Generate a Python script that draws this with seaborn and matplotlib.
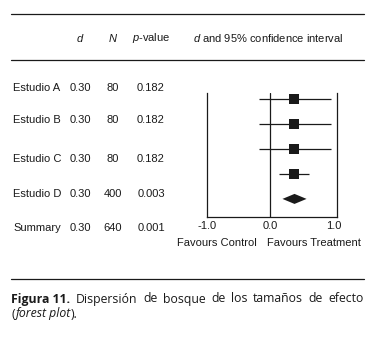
import matplotlib
matplotlib.use("Agg")
import matplotlib.pyplot as plt
import seaborn as sns
import pandas as pd
from matplotlib.lines import Line2D

sns.set_theme(style="white")
plt.rcParams['font.family'] = ['Liberation Sans', 'DejaVu Sans']
plt.rcParams['mathtext.fontset'] = 'custom'
plt.rcParams['mathtext.it'] = 'Liberation Sans:italic'
plt.rcParams['mathtext.rm'] = 'Liberation Sans'

# ---- data ----
studies = ["Estudio A", "Estudio B", "Estudio C", "Estudio D", "Summary"]
d_text = ["0.30", "0.30", "0.30", "0.30", "0.30"]
n_values = [80, 80, 80, 400, 640]
p_values = ["0.182", "0.182", "0.182", "0.003", "0.001"]
effect = [0.37, 0.37, 0.37, 0.37, 0.38]
ci_low = [-0.18, -0.18, -0.18, 0.14, 0.19]
ci_high = [0.95, 0.95, 0.95, 0.61, 0.57]
x_ticks = [-1.0, 0.0, 1.0]
x_ticklabels = ["-1.0", "0.0", "1.0"]

df = pd.DataFrame({"study": studies, "d": effect, "lo": ci_low, "hi": ci_high,
                   "row": range(len(studies))})

W, H = 380, 339
fig = plt.figure(figsize=(W / 100, H / 100), dpi=100)
fig.patch.set_facecolor("white")

def fx(x):
    return x / W

def fy(y):
    return 1 - y / H

# axes placement (pixels)
ax_l, ax_r, ax_t, ax_b = 207, 337, 92.7, 216.7
ax = fig.add_axes([fx(ax_l), fy(ax_b), (ax_r - ax_l) / W, (ax_b - ax_t) / H])
ax.set_facecolor("white")

ink = "#1a1a1a"
studies_df = df.iloc[:4]
summary_df = df.iloc[4:]

ax.hlines(studies_df["row"], studies_df["lo"], studies_df["hi"], color=ink, lw=0.9, zorder=2)
sns.scatterplot(data=studies_df, x="d", y="row", marker="s", s=44, color=ink,
                edgecolor=ink, linewidth=0, ax=ax, zorder=3, legend=False)
for _, r in summary_df.iterrows():
    h = 0.2
    ax.fill([r["lo"], r["d"], r["hi"], r["d"]],
            [r["row"], r["row"] - h, r["row"], r["row"] + h], color=ink, lw=0, zorder=3)

ax.axvline(0, color=ink, lw=0.9, zorder=1)
ax.set_xlim(-0.95, 1.05)
ax.set_ylim(4.71, -0.24)
ax.set_xticks(x_ticks)
ax.set_xticklabels(x_ticklabels)
ax.set_yticks([])
ax.set_xlabel("")
ax.set_ylabel("")
ax.tick_params(axis="x", length=0, pad=3, labelsize=8, colors=ink)
for s in ["left", "right", "bottom"]:
    ax.spines[s].set_visible(True)
    ax.spines[s].set_color(ink)
    ax.spines[s].set_linewidth(0.9)
ax.spines["top"].set_visible(False)

# table
fs = 8
txt_kw = dict(fontsize=fs, color=ink, va="center")
fig.text(fx(80), fy(38), "$d$", ha="center", **txt_kw)
fig.text(fx(113), fy(38), "$N$", ha="center", **txt_kw)
fig.text(fx(151), fy(38), "$p$-value", ha="center", **txt_kw)
fig.text(fx(268), fy(38), "$d$ and 95% confidence interval", ha="center", **txt_kw)

text_row_y = [88, 120, 159, 194, 228]
for i, ty in enumerate(text_row_y):
    fig.text(fx(13), fy(ty), studies[i], ha="left", **txt_kw)
    fig.text(fx(80), fy(ty), d_text[i], ha="center", **txt_kw)
    fig.text(fx(113), fy(ty), str(n_values[i]), ha="center", **txt_kw)
    fig.text(fx(151), fy(ty), p_values[i], ha="center", **txt_kw)

fig.text(fx(217), fy(243), "Favours Control", ha="center", **txt_kw)
fig.text(fx(314), fy(243), "Favours Treatment", ha="center", **txt_kw)

# rules
for yy in [14, 60, 279]:
    fig.add_artist(Line2D([fx(11), fx(364)], [fy(yy), fy(yy)], color=ink, lw=0.9))

# caption (justified first line)
cap_font = ['Open Sans', 'DejaVu Sans']
cap_fs = 8.8
renderer = fig.canvas.get_renderer()
words = [("Figura 11.", "bold"), ("Dispersión", "normal"), ("de", "normal"),
         ("bosque", "normal"), ("de", "normal"), ("los", "normal"),
         ("tamaños", "normal"), ("de", "normal"), ("efecto", "normal")]
arts = []
widths = []
for w, wt in words:
    t = fig.text(0, fy(299), w, fontsize=cap_fs, fontweight=wt, family=cap_font,
                 color=ink, va="center", ha="left")
    bb = t.get_window_extent(renderer)
    arts.append(t)
    widths.append(bb.width)
gap = (353 - sum(widths)) / (len(words) - 1)
x = 11
for t, wdt in zip(arts, widths):
    t.set_x(fx(x))
    x += wdt + gap

x = 11
for piece, style in [("(", "normal"), ("forest plot", "italic"), (").", "normal")]:
    t = fig.text(fx(x), fy(314), piece, fontsize=cap_fs, style=style, family=cap_font,
                 color=ink, va="center", ha="left")
    x += t.get_window_extent(renderer).width + 0.5

fig.savefig("out.png", dpi=100, facecolor="white")
